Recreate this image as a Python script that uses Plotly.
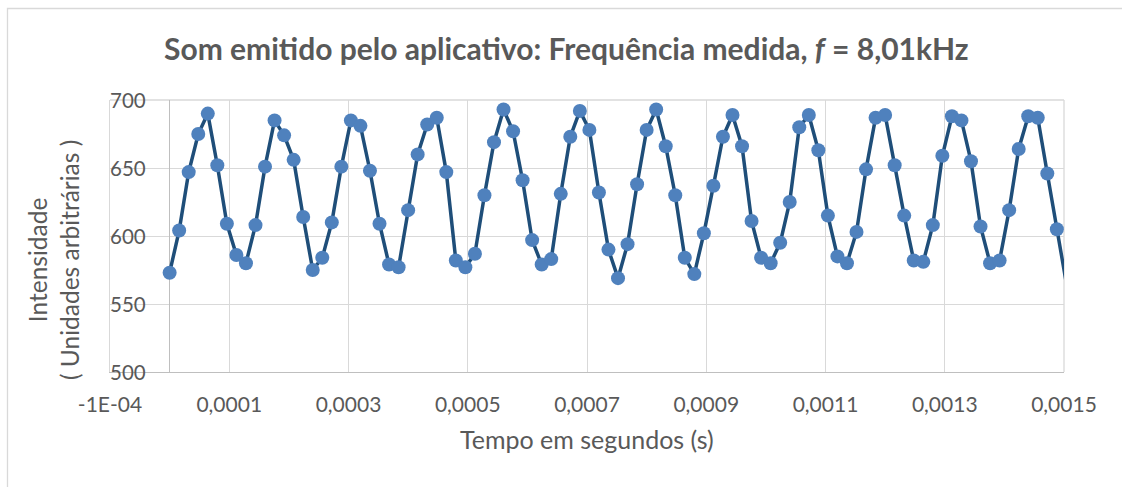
import plotly.graph_objects as go

# ---- data ----
intensidade = [
    573, 604, 647, 675, 690, 652, 609, 586, 580, 608,
    651, 685, 674, 656, 614, 575, 584, 610, 651, 685,
    681, 648, 609, 579, 577, 619, 660, 682, 687, 647,
    582, 577, 587, 630, 669, 693, 677, 641, 597, 579,
    583, 631, 673, 692, 678, 632, 590, 569, 594, 638,
    678, 693, 666, 630, 584, 572, 602, 637, 673, 689,
    666, 611, 584, 580, 595, 625, 680, 689, 663, 615,
    585, 580, 603, 649, 687, 689, 652, 615, 582, 581,
    608, 659, 688, 685, 655, 607, 580, 582, 619, 664,
    688, 687, 646, 605, 565,
]
PASSO_TEMPO = 1.6e-5  # sampling interval (s)
tempo = [i * PASSO_TEMPO for i in range(len(intensidade))]

x_tick_vals = [-0.0001, 0.0001, 0.0003, 0.0005, 0.0007, 0.0009, 0.0011, 0.0013, 0.0015]
x_tick_text = ["-1E-04", "0,0001", "0,0003", "0,0005", "0,0007", "0,0009",
               "0,0011", "0,0013", "0,0015"]
y_tick_vals = [500, 550, 600, 650, 700]
y_tick_text = ["500", "550", "600", "650", "700"]
X_MIN, X_MAX = -0.0001, 0.0015

FONT = "Lato"
TXT = "#595959"
GRID = "#D9D9D9"
AXL = "#BFBFBF"

fig = go.Figure()
fig.add_trace(go.Scatter(
    x=tempo, y=intensidade, mode="lines",
    line=dict(color="#1F4E79", width=3.5),
    hoverinfo="skip", showlegend=False,
))
vis_t = [t for t in tempo if t <= X_MAX + 1e-12]
vis_v = [v for t, v in zip(tempo, intensidade) if t <= X_MAX + 1e-12]
fig.add_trace(go.Scatter(
    x=vis_t, y=vis_v, mode="markers",
    marker=dict(color="#4F81BD", size=14, line=dict(width=0)),
    cliponaxis=False, showlegend=False,
))

px_per_paper_x = 954.0
px_per_paper_y = 272.0
L = 110
shapes = [
    # top and right edges of the plot area
    dict(type="line", xref="paper", yref="paper", x0=0, x1=1, y0=1, y1=1,
         line=dict(color=GRID, width=1.3), layer="below"),
    dict(type="line", xref="paper", yref="paper", x0=1, x1=1, y0=0, y1=1,
         line=dict(color=GRID, width=1.3), layer="below"),
    # outer chart border
    dict(type="rect", xref="paper", yref="paper",
         x0=(7.5 - L) / px_per_paper_x, x1=(1135 - L) / px_per_paper_x,
         y0=(372 - 500) / px_per_paper_y, y1=1 + (100 - 8.5) / px_per_paper_y,
         line=dict(color=GRID, width=1.3), layer="below"),
]

annotations = [
    dict(text="<b>Som emitido pelo aplicativo: Frequência medida, <i>f</i> = 8,01kHz</b>",
         xref="paper", yref="paper", x=(566 - L) / px_per_paper_x,
         y=1 + (100 - 48) / px_per_paper_y, xanchor="center", yanchor="middle",
         showarrow=False, font=dict(size=30, color=TXT, family=FONT)),
    dict(text="Tempo em segundos (s)", xref="paper", yref="paper",
         x=(587 - L) / px_per_paper_x, y=(372 - 439) / px_per_paper_y,
         xanchor="center", yanchor="middle", showarrow=False,
         font=dict(size=25, color=TXT, family=FONT)),
    dict(text="Intensidade<br>( Unidades arbitrárias )", xref="paper", yref="paper",
         x=(53 - L) / px_per_paper_x, y=(372 - 260) / px_per_paper_y,
         xanchor="center", yanchor="middle", showarrow=False, textangle=-90,
         font=dict(size=24.5, color=TXT, family=FONT)),
]
# y tick labels sit next to the vertical axis, which crosses at t = 0
for yv, yt in zip(y_tick_vals, y_tick_text):
    annotations.append(dict(text=yt, xref="x", yref="y", x=0, y=yv,
                            xanchor="right", yanchor="middle", xshift=-22,
                            showarrow=False, font=dict(size=20.5, color=TXT, family=FONT)))

fig.update_layout(
    width=1122, height=487,
    margin=dict(l=L, r=58, t=100, b=115),
    paper_bgcolor="white", plot_bgcolor="white",
    font=dict(family=FONT, color=TXT),
    shapes=shapes,
    annotations=annotations,
    xaxis=dict(
        range=[X_MIN, X_MAX], tickmode="array", tickvals=x_tick_vals, ticktext=x_tick_text,
        tickangle=0,
        showgrid=True, gridcolor=GRID, gridwidth=1.3,
        showline=True, linecolor=AXL, linewidth=1.3, mirror=False,
        zeroline=True, zerolinecolor=AXL, zerolinewidth=1.3,
        ticks="", ticklabelstandoff=14,
        tickfont=dict(size=21, color=TXT, family=FONT),
    ),
    yaxis=dict(
        range=[500, 700], tickmode="array", tickvals=y_tick_vals,
        showgrid=True, gridcolor=GRID, gridwidth=1.3,
        showline=True, linecolor=GRID, linewidth=1.3,
        zeroline=False, ticks="", showticklabels=False,
    ),
)

fig.write_html("out.html")
